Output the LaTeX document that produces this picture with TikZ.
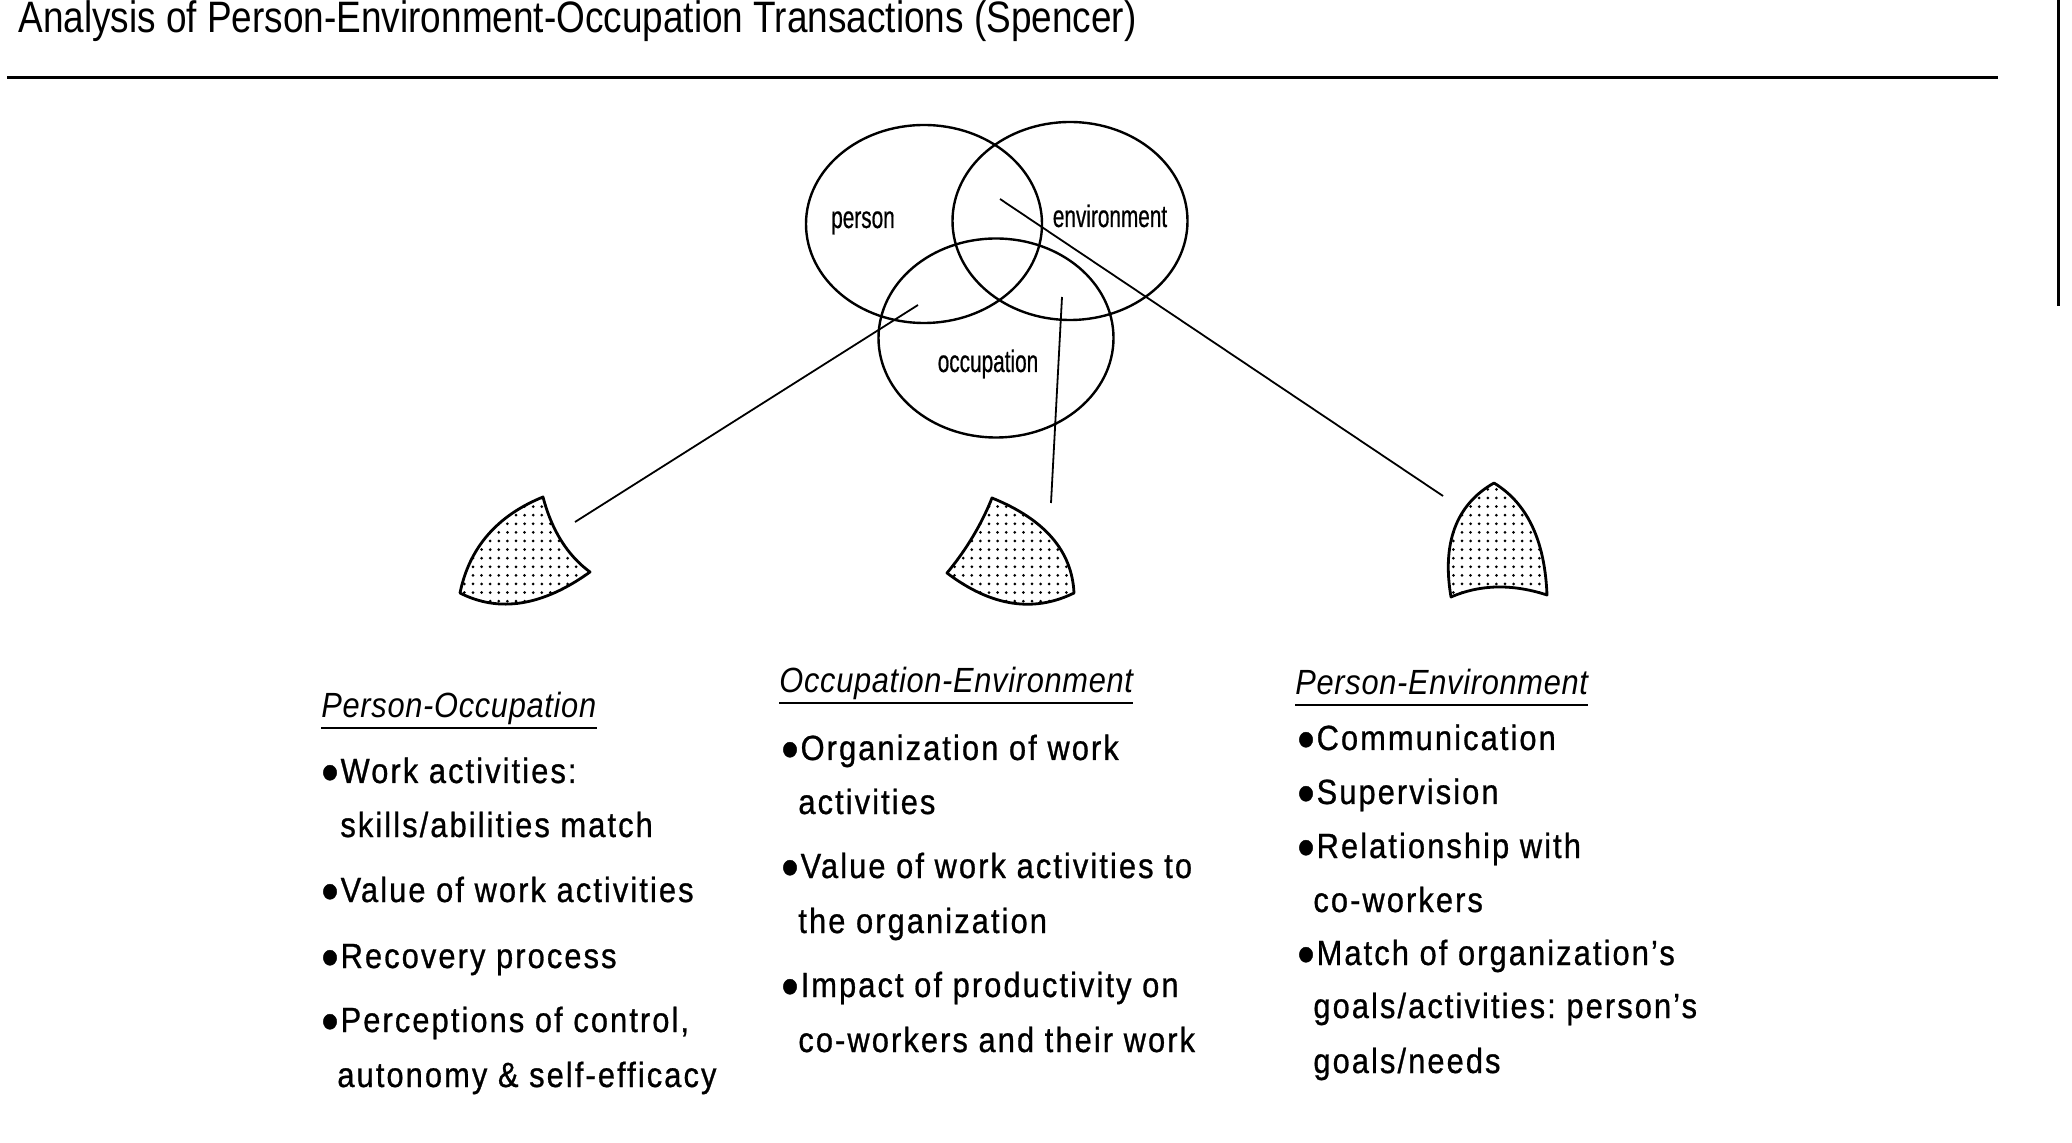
\documentclass[tikz,border=0pt]{standalone}
\usepackage{fontspec}
\usepackage{graphicx}
\usetikzlibrary{shapes.geometric,patterns.meta}
\newfontfamily\bodyfont{Liberation Sans}[FakeStretch=0.88,LetterSpace=6,FakeBold=0.8]
\newfontfamily\headfont{Liberation Sans}[FakeStretch=0.88,LetterSpace=2]
\newfontfamily\titlefont{Liberation Sans}[FakeStretch=0.84]
\newfontfamily\vennfont{Liberation Sans}[FakeStretch=0.67,FakeBold=0.6]
\newcommand\mybullet{\raisebox{-0.45ex}{\scalebox{1.6}{•}}\kern1pt}
\frenchspacing
\tikzset{
  ring/.style={draw, ellipse, line width=1.2pt, inner sep=0pt},
  venntext/.style={font=\vennfont\fontsize{15.5}{18}\selectfont, inner sep=0pt, anchor=base},
  link/.style={line width=0.9pt},
  wedge/.style={line width=1.4pt, line join=round, pattern={Dots[distance=4.3pt,radius=0.75pt]}},
  headtext/.style={font=\headfont\itshape\fontsize{17.5}{20}\selectfont, anchor=base west, inner sep=0pt},
  itemtext/.style={font=\bodyfont\fontsize{17.5}{20}\selectfont, anchor=base west, inner sep=0pt},
  titletext/.style={font=\titlefont\fontsize{22}{26}\selectfont, anchor=base west, inner sep=0pt},
  rule/.style={line width=1.5pt},
  uline/.style={line width=1pt}
}
\begin{document}
\begin{tikzpicture}[x=0.5pt,y=-0.5pt]
\useasboundingbox (0,0) rectangle (2072,1143);
% title and rules
\node[titletext] (title) at (18,33) {Analysis of Person-Environment-Occupation Transactions (Spencer)};
\coordinate (hruleA) at (7,78);
\coordinate (hruleB) at (1998,78);
\draw[rule] (hruleA) -- (hruleB);
\coordinate (vruleA) at (2058,0);
\coordinate (vruleB) at (2058,306);
\draw[rule] (vruleA) -- (vruleB);
% Venn diagram
\node[ring, minimum width=118pt, minimum height=99pt] (person) at (924,224) {};
\node[ring, minimum width=117.5pt, minimum height=99pt] (environment) at (1070,221) {};
\node[ring, minimum width=117.5pt, minimum height=99.5pt] (occupation) at (996,338) {};
\node[venntext] (lperson) at (863,228) {person};
\node[venntext] (lenv) at (1110,227) {environment};
\node[venntext] (locc) at (988,372) {occupation};
% connectors
\coordinate (poA) at (918,305);
\coordinate (poB) at (575,522);
\coordinate (oeA) at (1062,297);
\coordinate (oeB) at (1051,503);
\coordinate (peA) at (1000,199);
\coordinate (peB) at (1443,496);
\draw[link] (poA) -- (poB);
\draw[link] (oeA) -- (oeB);
\draw[link] (peA) -- (peB);
% wedges
\draw[wedge] (543,497) .. controls (551.7,530.3) and (567.3,555.3) .. (590,572)
  .. controls (542.7,606) and (499.3,613) .. (460,593)
  .. controls (469.3,547.7) and (497,515.7) .. cycle;
\draw[wedge] (992,498) .. controls (1044.7,519.3) and (1072,551) .. (1074,593)
  .. controls (1033.3,613) and (991,606.3) .. (947,573)
  .. controls (966.3,549.7) and (981.3,524.7) .. cycle;
\draw[wedge] (1494,483) .. controls (1530,505) and (1545,545) .. (1547,595)
  .. controls (1512.3,583.7) and (1480.3,584.3) .. (1451,597)
  .. controls (1442,545) and (1455,505) .. cycle;
% column 1
\node[headtext] (h1) at (321,718) {Person-Occupation};
\draw[uline] ([yshift=-5pt]h1.base west) -- ([yshift=-5pt]h1.base east);
\node[itemtext] (a1) at (321,783) {\mybullet Work activities:};
\node[itemtext] (a2) at (340,837) {skills/abilities match};
\node[itemtext] (a3) at (321,902) {\mybullet Value of work activities};
\node[itemtext] (a4) at (321,968) {\mybullet Recovery process};
\node[itemtext] (a5) at (321,1032) {\mybullet Perceptions of control,};
\node[itemtext] (a6) at (337,1087) {autonomy \& self-efficacy};
% column 2
\node[headtext] (h2) at (779,693) {Occupation-Environment};
\draw[uline] ([yshift=-5pt]h2.base west) -- ([yshift=-5pt]h2.base east);
\node[itemtext] (b1) at (781,760) {\mybullet Organization of work};
\node[itemtext] (b2) at (798,814) {activities};
\node[itemtext] (b3) at (781,878) {\mybullet Value of work activities to};
\node[itemtext] (b4) at (798,933) {the organization};
\node[itemtext] (b5) at (781,997) {\mybullet Impact of productivity on};
\node[itemtext] (b6) at (798,1052) {co-workers and their work};
% column 3
\node[headtext] (h3) at (1295,695) {Person-Environment};
\draw[uline] ([yshift=-5pt]h3.base west) -- ([yshift=-5pt]h3.base east);
\node[itemtext] (c1) at (1297,750) {\mybullet Communication};
\node[itemtext] (c2) at (1297,804) {\mybullet Supervision};
\node[itemtext] (c3) at (1297,858) {\mybullet Relationship with};
\node[itemtext] (c4) at (1313,912) {co-workers};
\node[itemtext] (c5) at (1297,965) {\mybullet Match of organization’s};
\node[itemtext] (c6) at (1313,1018) {goals/activities: person’s};
\node[itemtext] (c7) at (1313,1073) {goals/needs};
\end{tikzpicture}
\end{document}
